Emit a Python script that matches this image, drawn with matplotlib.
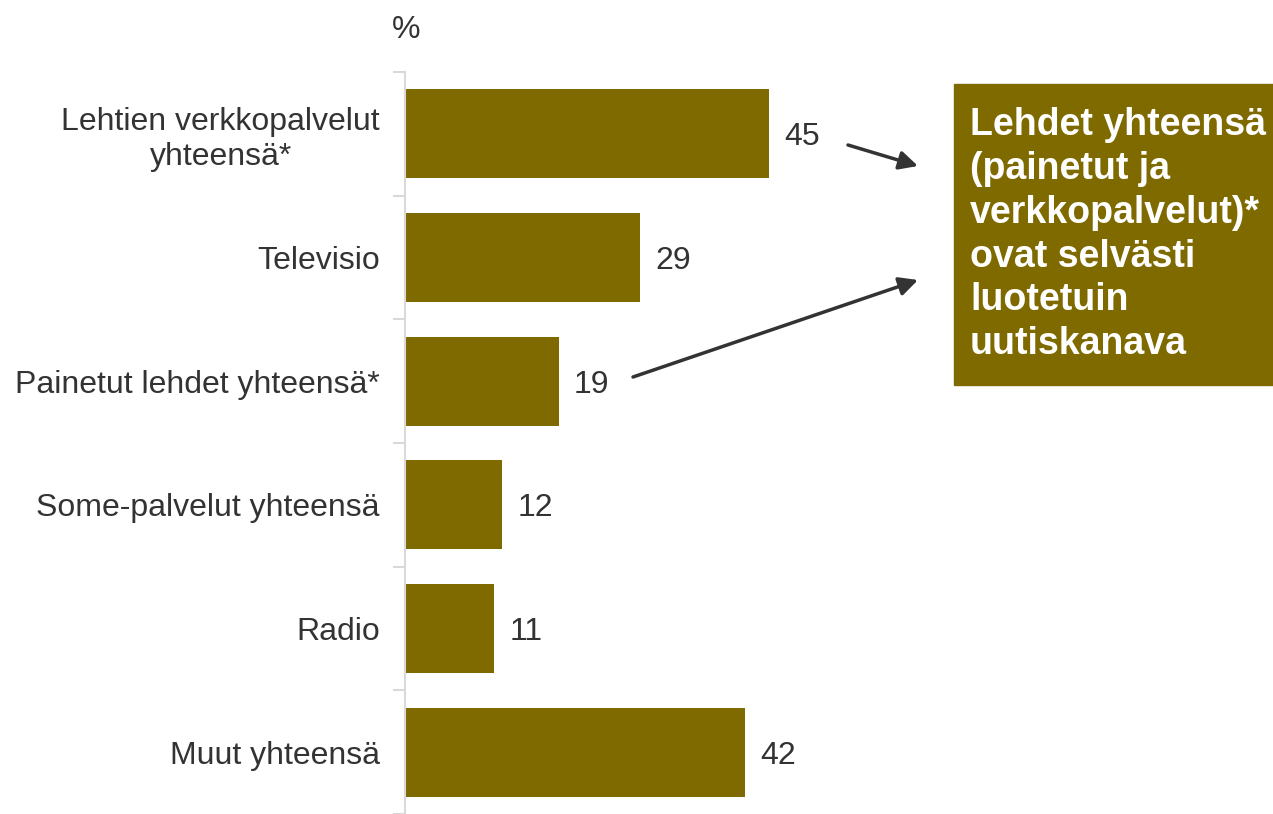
import matplotlib.pyplot as plt

plt.rcParams['font.family'] = ['Liberation Sans', 'DejaVu Sans']

# data
categories = ['Lehtien verkkopalvelut\nyhteensä*', 'Televisio', 'Painetut lehdet yhteensä*',
              'Some-palvelut yhteensä', 'Radio', 'Muut yhteensä']
values = [45, 29, 19, 12, 11, 42]
box_text = 'Lehdet yhteensä\n(painetut ja\nverkkopalvelut)*\novat selvästi\nluotetuin\nuutiskanava'

bar_color = '#7f6a00'
text_color = '#333333'
axis_color = '#d9d9d9'

fig = plt.figure(figsize=(12.73, 8.14), dpi=100)
# axes in figure pixels: left 405, top 72, bottom 0
W, H = 1273, 814
ax = fig.add_axes([405 / W, 0 / H, 809 / W, (814 - 72) / H])

y = list(range(len(categories)))
ax.barh(y, values, height=0.72, color=bar_color)
ax.set_xlim(0, 100)
ax.set_ylim(len(categories) - 0.5, -0.5)

for yi, v in zip(y, values):
    ax.text(v + 1.9, yi, str(v), va='center_baseline', ha='left', fontsize=23, color=text_color)

# y axis with ticks between categories
ax.set_yticks(y)
ax.set_yticklabels(categories, fontsize=23, color=text_color, linespacing=1.2,
                   multialignment='center')
ax.tick_params(axis='y', length=0, pad=18)
ax.set_yticks([i - 0.5 for i in range(len(categories) + 1)], minor=True)
ax.tick_params(axis='y', which='minor', length=9, width=1.5, color=axis_color)
ax.tick_params(axis='x', bottom=False, labelbottom=False)
for s in ['top', 'right', 'bottom']:
    ax.spines[s].set_visible(False)
ax.spines['left'].set_color(axis_color)
ax.spines['left'].set_linewidth(1.5)

fig.text(406 / W, 1 - 30 / H, '%', fontsize=23, color=text_color, ha='center', va='center')

# annotation box
fig.patches.append(plt.Rectangle((954 / W, 1 - 385 / H), (1273 - 954) / W, (385 - 84) / H,
                                 transform=fig.transFigure, color=bar_color, zorder=1))
fig.text(970 / W, 1 - 107 / H, box_text, fontsize=27, fontweight='bold', color='white',
         ha='left', va='top', linespacing=1.28, zorder=2)

arrow = dict(arrowstyle='-|>', color=text_color, lw=2.5, mutation_scale=28, shrinkA=0, shrinkB=0)
ax.annotate('', xy=(918 / W, 1 - 166 / H), xytext=(848 / W, 1 - 145 / H),
            xycoords='figure fraction', textcoords='figure fraction', arrowprops=arrow)
ax.annotate('', xy=(918 / W, 1 - 280 / H), xytext=(633 / W, 1 - 377 / H),
            xycoords='figure fraction', textcoords='figure fraction', arrowprops=arrow)

fig.savefig('out.png', dpi=100)
